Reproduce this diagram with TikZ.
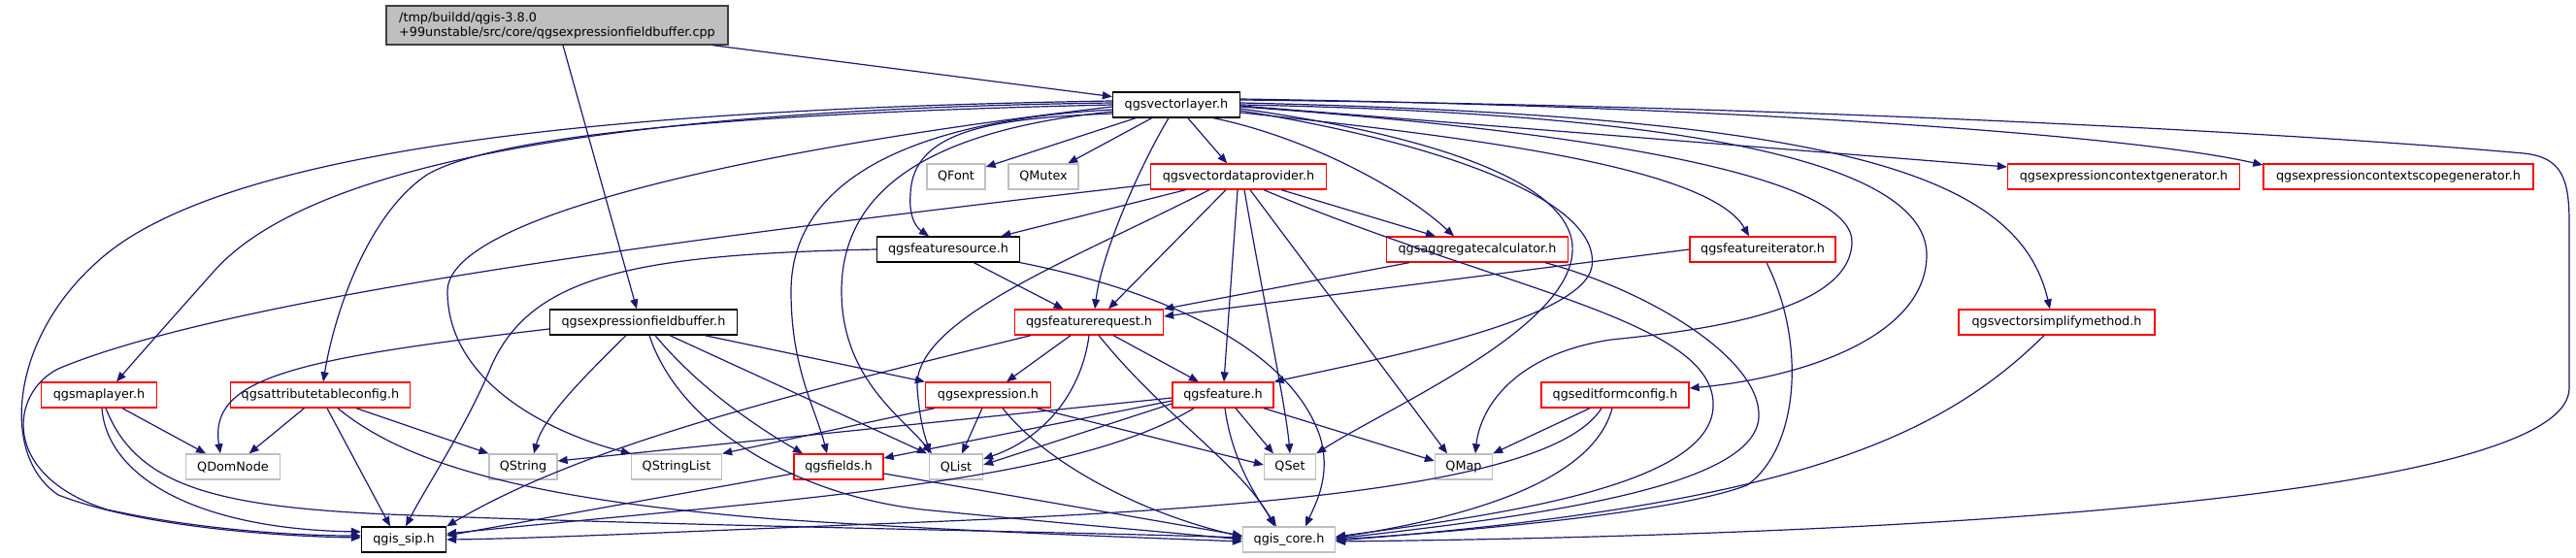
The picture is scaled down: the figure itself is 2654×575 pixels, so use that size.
\documentclass[tikz,border=0pt]{standalone}
\usepackage{fontspec}
\setmainfont{DejaVu Sans}
\usepackage{tikz}
\usetikzlibrary{arrows.meta}
\definecolor{edgeblue}{RGB}{25,25,112}
\definecolor{boxred}{RGB}{255,0,0}
\definecolor{boxgrey}{RGB}{191,191,191}
\definecolor{rootline}{RGB}{64,64,64}

\begin{document}
\begin{tikzpicture}[x=1pt, y=-1pt,
    every node/.style={font=\fontsize{12.8}{15}\selectfont, inner sep=0pt, minimum height=26pt, fill=white, line width=1.3pt},
    blackbox/.style={draw=black},
    redbox/.style={draw=boxred},
    greybox/.style={draw=boxgrey},
    rootbox/.style={draw=rootline, fill=boxgrey, minimum width=352pt, minimum height=40pt, align=left},
    edge/.style={draw=edgeblue, line width=1.2pt, -{Triangle[length=10pt,width=8pt]}}]
  \useasboundingbox (0,0) rectangle (2654,575);

  \node[rootbox] (root) at (574,26) {/tmp/buildd/qgis-3.8.0\\+99unstable/src/core/qgsexpressionfieldbuffer.cpp};

  \foreach \nm/\px/\py/\bw/\lbl in {vl/1212/108/131/qgsvectorlayer.h, fsrc/977/257/147/qgsfeaturesource.h,
      efb/663/332/193/qgsexpressionfieldbuffer.h, sip/416/556/87/qgis\_sip.h}
    \node[blackbox, minimum width=\bw pt] (\nm) at (\px,\py) {\lbl};

  \foreach \nm/\px/\py/\bw/\lbl in {vdp/1276/182/181/qgsvectordataprovider.h, ctxgen/2188/182/239/qgsexpressioncontextgenerator.h,
      ctxscope/2471/182/278/qgsexpressioncontextscopegenerator.h, aggc/1522/257/187/qgsaggregatecalculator.h,
      fiter/1816/257/150/qgsfeatureiterator.h, freq/1122/332/153/qgsfeaturerequest.h,
      simp/2119/332/202/qgsvectorsimplifymethod.h, mapl/102/407/119/qgsmaplayer.h,
      attc/330/407/185/qgsattributetableconfig.h, expr/1018/407/129/qgsexpression.h,
      feat/1260/407/104/qgsfeature.h, efc/1664/407/152/qgseditformconfig.h, fields/864/481/92/qgsfields.h}
    \node[redbox, minimum width=\bw pt] (\nm) at (\px,\py) {\lbl};

  \foreach \nm/\px/\py/\bw/\lbl in {qfont/985/182/60/QFont, qmutex/1075/182/72/QMutex, qdom/240/481/97/QDomNode,
      qstr/539/481/70/QString, qsl/697/481/93/QStringList, qlist/985/481/55/QList, qset/1329/481/53/QSet,
      qmap/1508/481/59/QMap, core/1328/556/95/qgis\_core.h}
    \node[greybox, minimum width=\bw pt] (\nm) at (\px,\py) {\lbl};

  \foreach \a/\b in {root/vl, vl/qfont, vl/qmutex, vl/vdp, vdp/fsrc, vdp/feat, fsrc/freq, freq/feat, expr/qlist, attc/qdom}
    \draw[edge] (\a) -- (\b);

  \draw[edge] ([xshift=6pt]root.south) -- ([xshift=-7pt]efb.north);

  \draw[edge] ([yshift=4pt]vl.west) .. controls (650,112) and (230,150) .. (100,270) .. controls (10,350) and (0,470) .. (60,510) .. controls (150,545) and (300,553) .. ([yshift=2pt]sip.west);
  \draw[edge] ([yshift=2pt]vl.west) .. controls (700,112) and (330,155) .. (220,280) .. controls (180,325) and (140,370) .. ([xshift=18pt]mapl.north);
  \draw[edge] (vl.west) .. controls (700,118) and (500,145) .. (440,180) .. controls (380,220) and (345,320) .. ([xshift=3pt]attc.north);
  \draw[edge] ([yshift=-2pt]vl.west) .. controls (800,150) and (461,220) .. (461,300) .. controls (461,400) and (580,450) .. (qsl.north west);
  \draw[edge] ([yshift=-5pt]vl.west) .. controls (930,125) and (815,190) .. (815,300) .. controls (815,380) and (840,420) .. ([xshift=-12pt]fields.north);
  \draw[edge] ([yshift=-7pt]vl.west) .. controls (950,135) and (867,200) .. (867,300) .. controls (867,390) and (930,430) .. ([xshift=-25pt]qlist.north);
  \draw[edge] ([yshift=-9pt]vl.west) .. controls (1020,122) and (940,135) .. (938,200) .. controls (936,225) and (945,235) .. ([xshift=-20pt]fsrc.north);
  \draw[edge] ([xshift=-8pt]vl.south) .. controls (1175,170) and (1135,260) .. ([xshift=6pt]freq.north);
  \draw[edge] ([xshift=38pt]vl.south) .. controls (1340,140) and (1440,190) .. ([xshift=-24pt]aggc.north);
  \draw[edge] ([yshift=-8pt]vl.east) .. controls (1500,140) and (1760,170) .. ([xshift=-14pt]fiter.north);
  \draw[edge] ([yshift=-6pt]vl.east) .. controls (1500,150) and (1650,210) .. (1640,275) .. controls (1630,330) and (1420,370) .. (feat.north east);
  \draw[edge] ([yshift=-4pt]vl.east) .. controls (1480,140) and (1625,190) .. (1620,260) .. controls (1615,340) and (1430,420) .. (qset.north east);
  \draw[edge] ([yshift=-2pt]vl.east) .. controls (1700,140) and (1910,190) .. (1908,250) .. controls (1906,320) and (1760,340) .. (1660,350) .. controls (1560,365) and (1525,420) .. ([xshift=12pt]qmap.north);
  \draw[edge] (vl.east) .. controls (1800,118) and (1988,180) .. (1985,265) .. controls (1982,350) and (1850,390) .. ([yshift=7pt]efc.east);
  \draw[edge] ([yshift=2pt]vl.east) .. controls (1900,120) and (2080,180) .. ([xshift=-7pt]simp.north);
  \draw[edge] ([yshift=-1pt]vl.east) -- ([yshift=10pt]ctxgen.west);
  \draw[edge] ([yshift=6pt]vl.east) .. controls (1800,110) and (2200,140) .. ([yshift=12pt]ctxscope.west);
  \draw[edge] ([yshift=5pt]vl.east) .. controls (1900,110) and (2400,140) .. (2600,158) .. controls (2640,162) and (2647,185) .. (2647,230) -- (2647,400) .. controls (2647,500) and (2100,550) .. ([yshift=-2pt]core.east);

  \draw[edge] ([yshift=-8pt]vdp.west) .. controls (800,235) and (250,300) .. (60,380) .. controls (10,405) and (0,490) .. (110,525) .. controls (200,545) and (300,552) .. ([yshift=4pt]sip.west);
  \draw[edge] ([xshift=-30pt]vdp.south) .. controls (1100,270) and (940,330) .. (945,400) .. controls (948,440) and (955,455) .. ([xshift=-28pt]qlist.north);
  \draw[edge] ([xshift=-13pt]vdp.south) -- ([xshift=20pt]freq.north);
  \draw[edge] ([xshift=6pt]vdp.south) .. controls (1300,300) and (1325,420) .. (qset.north);
  \draw[edge] ([xshift=12pt]vdp.south) -- ([xshift=-17pt]qmap.north);
  \draw[edge] ([xshift=44pt]vdp.south) -- ([xshift=-43pt]aggc.north);
  \draw[edge] ([xshift=26pt]vdp.south) .. controls (1550,300) and (1770,330) .. (1765,420) .. controls (1760,500) and (1550,530) .. ([yshift=3pt]core.east);

  \draw[edge] (fsrc.west) .. controls (650,262) and (545,285) .. (505,380) .. controls (480,440) and (440,500) .. ([xshift=2pt]sip.north);
  \draw[edge] (fsrc.south east) .. controls (1200,300) and (1330,360) .. (1360,450) .. controls (1372,490) and (1355,520) .. ([xshift=17pt]core.north);

  \draw[edge] ([xshift=-70pt]aggc.south) -- (freq.north east);
  \draw[edge] ([xshift=70pt]aggc.south) .. controls (1700,300) and (1815,370) .. (1812,430) .. controls (1808,500) and (1600,530) .. ([yshift=1pt]core.east);
  \draw[edge] (fiter.west) -- ([yshift=6pt]freq.east);
  \draw[edge] ([xshift=4pt]fiter.south) .. controls (1860,350) and (1855,460) .. (1800,500) .. controls (1720,530) and (1500,548) .. (core.east);

  \draw[edge] ([xshift=-19pt]freq.south) -- ([xshift=19pt]expr.north);
  \draw[edge] (freq.south) .. controls (1115,400) and (1080,450) .. ([yshift=8pt]qlist.east);
  \draw[edge] ([xshift=10pt]freq.south) .. controls (1200,430) and (1280,480) .. ([xshift=-15pt]core.north);
  \draw[edge] ([xshift=-60pt]freq.south) .. controls (800,410) and (600,460) .. (sip.north east);

  \draw[edge] ([xshift=50pt]expr.south) -- ([yshift=2pt]qset.west);
  \draw[edge] ([xshift=15pt]expr.south) .. controls (1080,480) and (1180,530) .. ([yshift=3pt]core.west);
  \draw[edge] ([xshift=-55pt]expr.south) -- (qsl.north east);

  \draw[edge] ([yshift=-9pt]feat.west) -- ([yshift=2pt]qlist.east);
  \draw[edge] ([yshift=-6pt]feat.west) -- ([yshift=9pt]fields.east);
  \draw[edge] ([yshift=-3pt]feat.west) -- ([yshift=6pt]qstr.east);
  \draw[edge] ([xshift=-30pt]feat.south) .. controls (1100,500) and (800,515) .. ([yshift=6pt]sip.east);
  \draw[edge] ([xshift=13pt]feat.south) -- ([xshift=-17pt]qset.north);
  \draw[edge] ([xshift=42pt]feat.south) -- ([yshift=6pt]qmap.west);
  \draw[edge] ([xshift=2pt]feat.south) .. controls (1270,480) and (1300,520) .. ([xshift=-13pt]core.north);

  \draw[edge] ([yshift=-7pt]efb.west) .. controls (300,370) and (215,390) .. ([xshift=-13pt]qdom.north);
  \draw[edge] ([xshift=-18pt]efb.south) .. controls (600,390) and (560,430) .. ([xshift=11pt]qstr.north);
  \draw[edge] ([xshift=6pt]efb.south) .. controls (700,440) and (820,510) .. (950,525) .. controls (1100,540) and (1200,548) .. (core.west);
  \draw[edge] ([xshift=12pt]efb.south) .. controls (720,400) and (780,440) .. ([xshift=-37pt]fields.north);
  \draw[edge] ([xshift=27pt]efb.south) -- ([xshift=-30pt]qlist.north);
  \draw[edge] ([xshift=63pt]efb.south) -- (expr.north west);

  \draw[edge] ([xshift=24pt]mapl.south) -- ([xshift=-28pt]qdom.north);
  \draw[edge] ([xshift=3pt]mapl.south) .. controls (110,490) and (200,545) .. ([yshift=8pt]sip.west);
  \draw[edge] ([xshift=7pt]mapl.south) .. controls (140,500) and (220,522) .. (400,530) .. controls (700,542) and (1100,548) .. ([yshift=2pt]core.west);

  \draw[edge] ([xshift=37pt]attc.south) -- (qstr.north west);
  \draw[edge] ([xshift=7pt]attc.south) -- ([xshift=-14pt]sip.north);
  \draw[edge] ([xshift=18pt]attc.south) .. controls (420,480) and (550,515) .. (800,535) .. controls (1000,548) and (1150,553) .. ([yshift=-2pt]core.west);

  \draw[edge] ([yshift=-7pt]fields.west) -- ([yshift=4pt]sip.east);
  \draw[edge] ([yshift=-7pt]fields.east) -- ([yshift=4pt]core.west);

  \draw[edge] ([xshift=-26pt]efc.south) -- (qmap.north east);
  \draw[edge] ([xshift=-14pt]efc.south) .. controls (1600,500) and (1300,525) .. (900,540) .. controls (700,548) and (550,555) .. (sip.east);
  \draw[edge] ([xshift=-3pt]efc.south) .. controls (1640,500) and (1500,535) .. ([yshift=2pt]core.east);

  \draw[edge] ([xshift=-13pt]simp.south) .. controls (2000,450) and (1850,520) .. ([yshift=-1pt]core.east);
\end{tikzpicture}
\end{document}
